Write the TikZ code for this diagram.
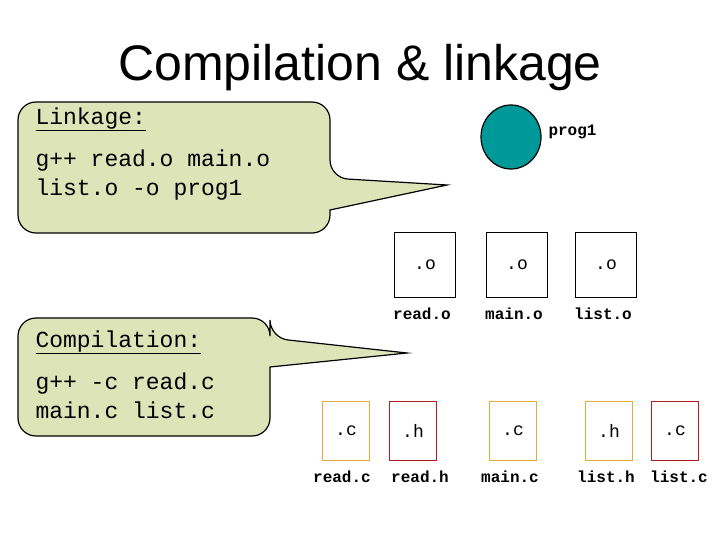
\documentclass[tikz,border=0pt]{standalone}
\usepackage{fontspec}
\setmainfont{Liberation Sans}
\setmonofont{Liberation Mono}
\usetikzlibrary{shapes.geometric}
\definecolor{calloutfill}{RGB}{221,228,184}
\definecolor{progteal}{RGB}{0,153,153}
\definecolor{srcorange}{RGB}{232,168,56}
\definecolor{hdrred}{RGB}{176,32,32}

\begin{document}
\begin{tikzpicture}[
    x=1pt, y=-1pt,
    callout/.style={draw=black, line width=1.2pt, fill=calloutfill},
    filebox/.style={draw=black, line width=1pt, minimum width=61pt, minimum height=65pt, font=\ttfamily\fontsize{18}{20}\selectfont},
    srcbox/.style={draw=srcorange, line width=1.5pt, minimum width=47pt, minimum height=59pt, font=\ttfamily\fontsize{18}{20}\selectfont},
    hdrbox/.style={srcbox, draw=hdrred},
    filelabel/.style={font=\ttfamily\bfseries\fontsize{16}{18}\selectfont},
    cmdtext/.style={anchor=north west, align=left, font=\ttfamily\fontsize{23}{29}\selectfont}
]
   \useasboundingbox (0,0) rectangle (720,540);

   % Title
   \node (title) at (360,68) {\fontsize{50}{56}\selectfont Compilation \& linkage};

   % Callouts
   \draw[callout] (18,160) [rounded corners=18] -- (18,102) -- (330,102) -- (330,178)
      [sharp corners] -- (447,185) -- (330,210) [rounded corners=18] -- (330,233) -- (18,233) -- cycle;
   \draw[callout] (18,380) [rounded corners=18] -- (18,318) -- (270,318) -- (270,338)
      [sharp corners] -- (407,353) -- (270,367) [rounded corners=18] -- (270,436) -- (18,436) -- cycle;

   \node[cmdtext] (linkhead) at (32,104) {\underline{Linkage:}};
   \node[cmdtext] (linkcmd) at (32,146) {g++ read.o main.o\\list.o -o prog1};
   \node[cmdtext] (comphead) at (32,327) {\underline{Compilation:}};
   \node[cmdtext] (compcmd) at (32,369) {g++ -c read.c\\main.c list.c};

   % Program
   \node[ellipse, draw=black, line width=1.2pt, fill=progteal, minimum width=60pt, minimum height=64pt] (prog) at (511,137) {};
   \node[filelabel, anchor=west] (proglabel) at (545,132) {prog1};

   % Object files
   \node[filebox] (reado) at (425,265) {.o};
   \node[filebox] (maino) at (517,265) {.o};
   \node[filebox] (listo) at (606,265) {.o};
   \node[filelabel] (readolabel) at (422,314) {read.o};
   \node[filelabel] (mainolabel) at (514,314) {main.o};
   \node[filelabel] (listolabel) at (603,314) {list.o};

   % Source files
   \node[srcbox] (readc) at (346,431) {.c};
   \node[hdrbox] (readh) at (413,431) {.h};
   \node[srcbox] (mainc) at (513,431) {.c};
   \node[srcbox] (listh) at (609,431) {.h};
   \node[hdrbox] (listc) at (675,431) {.c};
   \node[filelabel] (readclabel) at (342,477) {read.c};
   \node[filelabel] (readhlabel) at (420,477) {read.h};
   \node[filelabel] (mainclabel) at (510,477) {main.c};
   \node[filelabel] (listhlabel) at (606,477) {list.h};
   \node[filelabel] (listclabel) at (679,477) {list.c};
\end{tikzpicture}
\end{document}
